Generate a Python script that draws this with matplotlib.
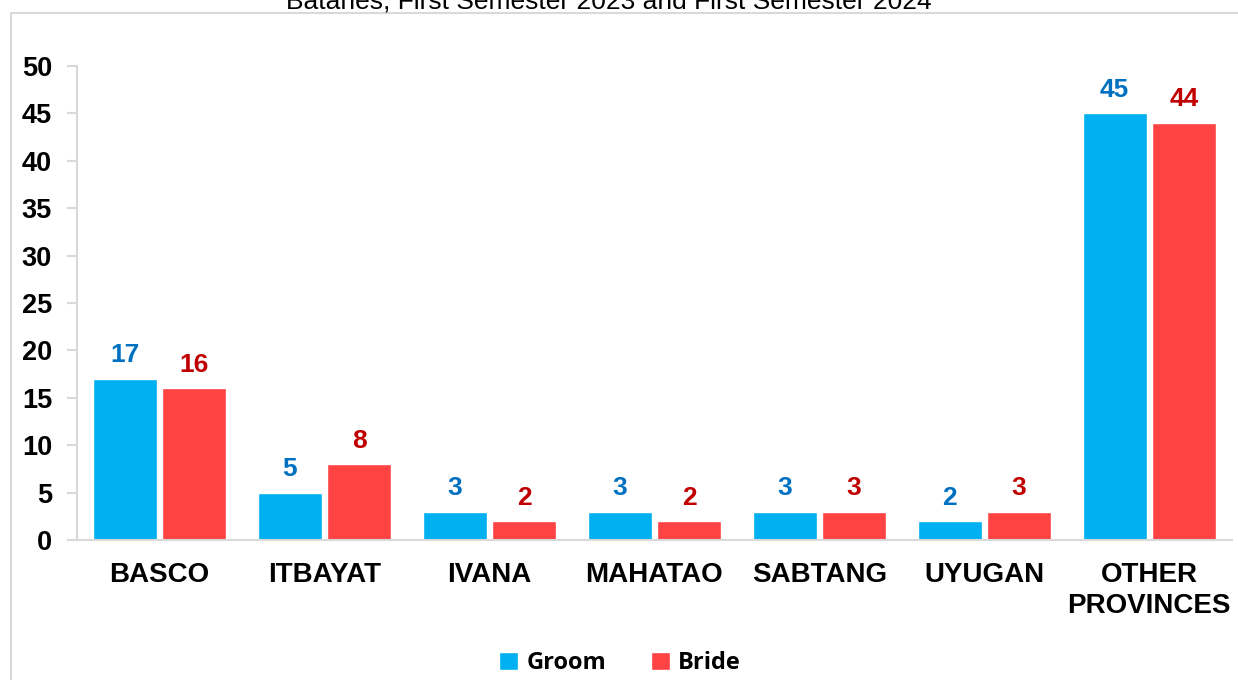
import matplotlib.pyplot as plt
import numpy as np
from matplotlib.patches import Rectangle

# data
places = ["BASCO", "ITBAYAT", "IVANA", "MAHATAO", "SABTANG", "UYUGAN", "OTHER\nPROVINCES"]
groom = [17, 5, 3, 3, 3, 2, 45]
bride = [16, 8, 2, 2, 3, 3, 44]
title = "Batanes, First Semester 2023 and First Semester 2024"

c_groom = "#00B0F0"
c_bride = "#FF4343"
c_groom_lbl = "#0070C0"
c_bride_lbl = "#C00000"
grey = "#D9D9D9"

fig = plt.figure(figsize=(12.38, 6.8), dpi=100)
ax = fig.add_axes([0.0622, 0.2059, 0.9328, 0.6971])

# outer chart border (light grey)
fig.patches.append(Rectangle((11 / 1238, -0.01), 1.02, 1 - 13 / 680 + 0.01,
                             transform=fig.transFigure, fill=False,
                             edgecolor=grey, linewidth=1.5))

x = np.arange(len(places))
w = 0.39
off = 0.21
b1 = ax.bar(x - off, groom, w, color=c_groom, edgecolor="white", linewidth=1, label="Groom")
b2 = ax.bar(x + off, bride, w, color=c_bride, edgecolor="white", linewidth=1, label="Bride")

for rect, v in zip(b1, groom):
    ax.text(rect.get_x() + rect.get_width() / 2, v + 1.2, str(v), ha="center", va="bottom",
            fontsize=19, fontweight="bold", color=c_groom_lbl, family="Liberation Sans")
for rect, v in zip(b2, bride):
    ax.text(rect.get_x() + rect.get_width() / 2, v + 1.2, str(v), ha="center", va="bottom",
            fontsize=19, fontweight="bold", color=c_bride_lbl, family="Liberation Sans")

ax.set_xlim(-0.5, len(places) - 0.5)
ax.set_ylim(0, 50)
ax.set_yticks(range(0, 51, 5))
ax.set_xticks(x)
ax.set_xticklabels(places, fontsize=20, fontweight="bold", family="Liberation Sans",
                   linespacing=1.25)
for lbl in ax.get_yticklabels():
    lbl.set_fontsize(19.5)
    lbl.set_fontweight("bold")
    lbl.set_family("Liberation Sans")

for s in ["top", "right"]:
    ax.spines[s].set_visible(False)
ax.spines["left"].set_color(grey)
ax.spines["bottom"].set_color(grey)
ax.spines["left"].set_linewidth(1.5)
ax.spines["bottom"].set_linewidth(1.5)
ax.tick_params(axis="y", length=7, color=grey, width=1.5, pad=11)
ax.tick_params(axis="x", length=0, pad=16)

fig.text(0.492, 0.998, title, ha="center", va="center", fontsize=19, family="Liberation Sans")

leg = fig.legend(loc="center", bbox_to_anchor=(0.501, 0.025), ncol=2, frameon=False,
                 prop={"family": "Open Sans", "weight": "bold", "size": 17},
                 handlelength=0.8, handleheight=0.8, columnspacing=1.9, handletextpad=0.35)

fig.savefig("out.png", dpi=100)
